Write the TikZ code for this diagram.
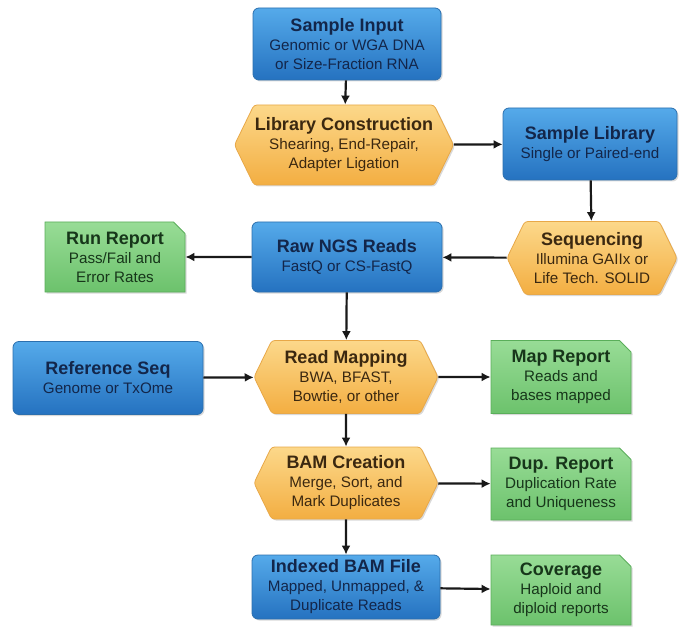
\documentclass[tikz,border=0pt]{standalone}
\usepackage{fontspec}
\setmainfont{Liberation Sans}
\usetikzlibrary{shapes.misc,shapes.symbols,shadows,arrows.meta}

\definecolor{bluetop}{HTML}{55AAEA}
\definecolor{bluebot}{HTML}{2572C0}
\definecolor{blueline}{HTML}{2B6FAE}
\definecolor{bluetext}{HTML}{13264A}
\definecolor{orangetop}{HTML}{FCD88A}
\definecolor{orangebot}{HTML}{F3AE42}
\definecolor{orangeline}{HTML}{E8A848}
\definecolor{orangetext}{HTML}{3B2810}
\definecolor{greentop}{HTML}{98DC96}
\definecolor{greenbot}{HTML}{6CC26C}
\definecolor{greenline}{HTML}{5AAE5A}
\definecolor{greentext}{HTML}{17361A}

\newcommand{\boxtitle}[1]{{\fontsize{18}{21}\selectfont\bfseries #1}}
\newcommand{\boxsub}{\fontsize{15.2}{19}\selectfont}

\tikzset{
  shade/.style={drop shadow={opacity=0.3, shadow xshift=1.5pt, shadow yshift=-1.5pt}},
  stage/.style={rectangle, rounded corners=6pt, draw=blueline, line width=0.8pt,
    top color=bluetop, bottom color=bluebot, text=bluetext, shade,
    align=center, font=\boxsub, inner sep=1pt},
  process/.style={signal, signal to=west and east, signal pointer angle=128,
    rounded corners=3pt, draw=orangeline, line width=0.8pt,
    top color=orangetop, bottom color=orangebot, text=orangetext, shade,
    align=center, font=\boxsub, inner sep=1pt},
  report/.style={chamfered rectangle, chamfered rectangle corners=north east,
    chamfered rectangle xsep=8pt, draw=greenline, line width=0.8pt,
    top color=greentop, bottom color=greenbot, text=greentext, shade,
    align=center, font=\boxsub, inner sep=1pt},
  flow/.style={-{Latex[length=9pt,width=9pt]}, line width=2.2pt, draw=black!90}
}

\begin{document}
\begin{tikzpicture}[x=1pt,y=-1pt]
\useasboundingbox (0,0) rectangle (679,628);

% main column
\node[stage, minimum width=188pt, minimum height=72pt] (input) at (347,44)
  {\boxtitle{Sample Input}\\Genomic or WGA DNA\\or Size-Fraction RNA};
\node[process, minimum width=192pt, minimum height=80pt] (libcon) at (344,145)
  {\boxtitle{Library Construction}\\Shearing, End-Repair,\\Adapter Ligation};
\node[stage, minimum width=174pt, minimum height=72pt] (samplib) at (590,144)
  {\boxtitle{Sample Library}\\Single or Paired-end};
\node[process, minimum width=170pt, minimum height=73pt] (seqing) at (592,258)
  {\boxtitle{Sequencing}\\Illumina GAIIx or\\Life Tech. SOLID};
\node[stage, minimum width=190pt, minimum height=70pt] (rawreads) at (347,257)
  {\boxtitle{Raw NGS Reads}\\FastQ or CS-FastQ};
\node[report, minimum width=140pt, minimum height=70pt] (runrep) at (115,257)
  {\boxtitle{Run Report}\\Pass/Fail and\\Error Rates};
\node[stage, minimum width=190pt, minimum height=73pt] (refseq) at (108,378)
  {\boxtitle{Reference Seq}\\Genome or TxOme};
\node[process, minimum width=184pt, minimum height=73pt] (mapping) at (346,377)
  {\boxtitle{Read Mapping}\\BWA, BFAST,\\Bowtie, or other};
\node[report, minimum width=140pt, minimum height=73pt] (maprep) at (561,377)
  {\boxtitle{Map Report}\\Reads and\\bases mapped};
\node[process, minimum width=184pt, minimum height=72pt] (bamcre) at (346,483)
  {\boxtitle{BAM Creation}\\Merge, Sort, and\\Mark Duplicates};
\node[report, minimum width=140pt, minimum height=72pt] (duprep) at (561,484)
  {\boxtitle{Dup. Report}\\Duplication Rate\\and Uniqueness};
\node[stage, minimum width=188pt, minimum height=64pt] (indexed) at (346,587)
  {\boxtitle{Indexed BAM File}\\Mapped, Unmapped, \&\\Duplicate Reads};
\node[report, minimum width=140pt, minimum height=70pt] (coverage) at (561,590)
  {\boxtitle{Coverage}\\Haploid and\\diploid reports};

% connectors
\draw[flow] (input) -- (libcon);
\draw[flow] (libcon) -- (samplib);
\draw[flow] (samplib) -- (seqing);
\draw[flow] (seqing) -- (rawreads);
\draw[flow] (rawreads) -- (runrep);
\draw[flow] (rawreads) -- (mapping);
\draw[flow] (refseq) -- (mapping);
\draw[flow] (mapping) -- (maprep);
\draw[flow] (mapping) -- (bamcre);
\draw[flow] (bamcre) -- (duprep);
\draw[flow] (bamcre) -- (indexed);
\draw[flow] (indexed) -- (coverage);
\end{tikzpicture}
\end{document}
